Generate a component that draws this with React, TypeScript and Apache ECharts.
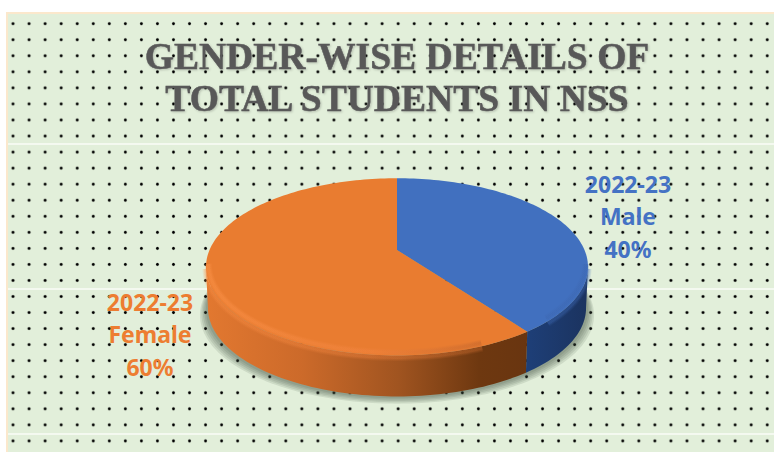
import React, { useEffect, useRef } from "react";
import * as echarts from "echarts";

const titleLines = ["GENDER-WISE DETAILS OF", "TOTAL STUDENTS IN NSS"];
const period = "2022-23";
const categories = ["Male", "Female"];
const values = [40, 60];
const topColors = ["#4170BF", "#E97C30"];
const labelColors = ["#4472C4", "#ED7D31"];
const labelCentres = [[628, 216], [150, 334]];

// Tilted pie projection
const CX = 397, APEX_Y = 250, A = 187.5, B = 85.4, K = 0.19, DEPTH = 41, BASE_SCALE = 0.99;
const total = values.reduce((a, b) => a + b, 0);
const project = (deg: number): [number, number] => {
  const r = (deg * Math.PI) / 180;
  const u = Math.sin(r), t = -Math.cos(r), w = 1 - K * t;
  return [CX + (A * u) / w, APEX_Y + (B * t) / w];
};
const base = (p: [number, number]): [number, number] => [CX + (p[0] - CX) * BASE_SCALE, p[1] + DEPTH];
const arc = (a0: number, a1: number) => {
  const out: [number, number][] = [];
  const n = Math.max(2, Math.ceil(Math.abs(a1 - a0) / 1.5));
  for (let i = 0; i <= n; i++) out.push(project(a0 + ((a1 - a0) * i) / n));
  return out;
};
const FRONT0 = (Math.acos(-K) * 180) / Math.PI, FRONT1 = 360 - FRONT0;
const wallFills = [
  { type: "linear", x: 0, y: 0, x2: 1, y2: 0, colorStops: [
    { offset: 0, color: "#1E3F78" }, { offset: 1, color: "#1B335F" } ] },
  { type: "linear", x: 0, y: 0, x2: 1, y2: 0, colorStops: [
    { offset: 0, color: "#E27830" }, { offset: 0.3, color: "#CC6A2A" },
    { offset: 0.6, color: "#A05420" }, { offset: 0.85, color: "#6E3810" }, { offset: 1, color: "#693510" } ] },
];
const rimStrokes = [
  { type: "linear", x: 0, y: 0, x2: 1, y2: 0, colorStops: [
    { offset: 0, color: "#3E69B4" }, { offset: 1, color: "#3E69B4" } ] },
  { type: "linear", x: 0, y: 0, x2: 1, y2: 0, colorStops: [
    { offset: 0, color: "#F88E44" }, { offset: 0.6, color: "#F0823C" }, { offset: 1, color: "#C8692D" } ] },
];
const shadowSteps = [8, 6.5, 5, 3.5, 2];
const softBands = [[7, 0.12], [5, 0.16], [3, 0.22]];

const renderItem = (params: any, api: any) => {
  const i = params.dataIndex;
  const v = api.value(0);
  const before = values.slice(0, i).reduce((a, b) => a + b, 0);
  const a0 = (before / total) * 360, a1 = ((before + v) / total) * 360;
  const children: any[] = [];
  if (i === 0) {
    const full = arc(0, 360).map(base);
    shadowSteps.forEach((s) => {
      children.push({
        type: "polygon",
        shape: { points: full.map(([x, y]) => [CX + (x - CX) * (1 + s / 190), y + s * 0.9]) },
        style: { fill: "rgba(60,75,60,0.12)" },
      });
    });
  }
  const f0 = Math.max(a0, FRONT0), f1 = Math.min(a1, FRONT1);
  const s0 = a0 < FRONT0 ? f0 : f0 + 14, s1 = a1 > FRONT1 ? f1 : f1 - 14;
  const softFrom = i === 0 ? f0 : s0, softTo = i === 0 ? s0 === f0 ? f1 - 8 : f1 : s1;
  if (f1 > f0) {
    const rim = arc(f0, f1);
    children.push({
      type: "polygon",
      shape: { points: [...rim, ...rim.map(base).reverse()] },
      style: { fill: wallFills[i] },
    });
    softBands.forEach(([w, o]) => {
      children.push({
        type: "polyline",
        shape: { points: arc(softFrom, softTo).map(([x, y]) => [x, y + 2]) },
        style: { fill: null, stroke: rimStrokes[i], lineWidth: w, opacity: o },
      });
    });
  }
  children.push({
    type: "polygon",
    shape: { points: [[CX, APEX_Y], ...arc(a0, a1)] },
    style: { fill: topColors[i] },
  });
  if (f1 > f0) {
    softBands.forEach(([w, o]) => {
      children.push({
        type: "polyline",
        shape: { points: arc(softFrom, softTo).map(([x, y]) => [CX + (x - CX) * 0.988, y - 3]) },
        style: { fill: null, stroke: rimStrokes[i], lineWidth: w, opacity: o * 1.6 },
      });
    });
  }
  children.push({
    type: "text",
    x: labelCentres[i][0], y: labelCentres[i][1],
    style: {
      text: `${period}\n${categories[i]}\n${Math.round((v / total) * 100)}%`,
      fill: labelColors[i], font: 'bold 23px "Noto Sans"', lineHeight: 32.5,
      align: "center", verticalAlign: "middle",
    },
  });
  return { type: "group", children };
};

export default function App() {
  const ref = useRef<HTMLDivElement>(null);
  useEffect(() => {
    document.body.style.margin = "0";
    const chart = echarts.init(ref.current!, null, { renderer: "svg" });
    chart.setOption({
      animation: false,
      backgroundColor: "transparent",
      title: {
        text: titleLines.join("\n"),
        left: 392, top: 30, textAlign: "center",
        textStyle: {
          fontFamily: '"Liberation Serif"', fontWeight: "bold", fontSize: 37.6, lineHeight: 42,
          color: "#595959", textBorderColor: "#595959", textBorderWidth: 0.5,
          textShadowColor: "rgba(0,0,0,0.2)", textShadowBlur: 2, textShadowOffsetX: 1, textShadowOffsetY: 1,
        },
      },
      series: [{
        type: "custom",
        coordinateSystem: "none",
        renderItem,
        data: values.map((v, i) => ({ name: categories[i], value: [v] })),
        silent: true,
      }],
    });
    return () => chart.dispose();
  }, []);
  return (
    <div style={{ position: "relative", width: 774, height: 452, background: "#fff", overflow: "hidden" }}>
      <div style={{
        position: "absolute", left: 6, top: 12, right: 0, bottom: 0, background: "#E2EFDA",
        borderLeft: "2px solid #FBE8CC", borderTop: "2px solid #FBE8CC",
      }} />
      {[143, 288, 433].map((y) => (
        <div key={y} style={{ position: "absolute", left: 8, right: 0, top: y, height: 1.5, background: "#F4F9F0" }} />
      ))}
      <div style={{
        position: "absolute", left: 8, top: 14, right: 0, bottom: 0,
        backgroundImage: "radial-gradient(circle at 8px 8px, #000 1px, rgba(0,0,0,0.2) 1.6px, transparent 2.1px)",
        backgroundSize: "16.05px 16.05px",
        backgroundPosition: "-3px 1.7px",
      }} />
      <div ref={ref} style={{ position: "absolute", left: 0, top: 0, width: 774, height: 452 }} />
    </div>
  );
}
